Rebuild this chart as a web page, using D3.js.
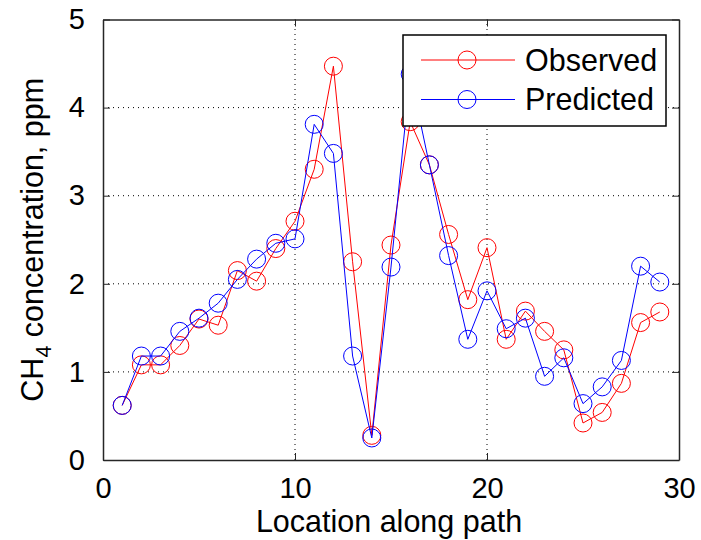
<!DOCTYPE html>
<html><head><meta charset="utf-8">
<script src="https://cdn.jsdelivr.net/npm/d3@7"></script>
<style>body{margin:0;background:#fff}svg{display:block}text{font-family:"Liberation Sans",Arial,sans-serif}</style>
</head><body>
<script>
const locations = d3.range(1, 30);
const observed = [0.62,1.08,1.08,1.30,1.60,1.53,2.15,2.03,2.40,2.71,3.30,4.47,2.25,0.28,2.44,3.84,3.35,2.56,1.82,2.41,1.37,1.69,1.46,1.25,0.42,0.54,0.87,1.56,1.68];
const predicted = [0.62,1.18,1.18,1.46,1.61,1.78,2.05,2.28,2.46,2.51,3.81,3.48,1.18,0.25,2.19,4.38,3.35,2.32,1.37,1.92,1.49,1.61,0.95,1.16,0.64,0.83,1.13,2.20,2.02];
const xTicks = [0,10,20,30];
const yTicks = [0,1,2,3,4,5];
const seriesNames = ["Observed","Predicted"];
const seriesColors = ["#ff0000","#0000ff"];

const W = 701, H = 540;
const m = {l:103, r:22, t:19.5, b:80};
const svg = d3.select("body").append("svg").attr("width",W).attr("height",H);
const x = d3.scaleLinear().domain([0,30]).range([m.l, W-m.r]);
const y = d3.scaleLinear().domain([0,5]).range([H-m.b, m.t]);
const fs = 29, fl = 30.5;

// grid
const g = svg.append("g");
g.selectAll(".gx").data(xTicks.slice(1,-1)).join("line")
  .attr("x1",d=>x(d)).attr("x2",d=>x(d)).attr("y1",y(0)).attr("y2",y(5))
  .attr("stroke","#000").attr("stroke-width",1).attr("stroke-dasharray","1,4");
g.selectAll(".gy").data(yTicks.slice(1,-1)).join("line")
  .attr("y1",d=>y(d)).attr("y2",d=>y(d)).attr("x1",x(0)).attr("x2",x(30))
  .attr("stroke","#000").attr("stroke-width",1).attr("stroke-dasharray","1,4");

// axes
const tl = 7;
const xb = svg.append("g").attr("transform",`translate(0,${y(0)})`)
  .call(d3.axisBottom(x).tickValues(xTicks).tickFormat(d3.format("d")).tickSize(-tl).tickPadding(tl+10).tickSizeOuter(0));
const xt = svg.append("g").attr("transform",`translate(0,${y(5)})`)
  .call(d3.axisTop(x).tickValues(xTicks).tickSize(-tl).tickFormat("").tickSizeOuter(0));
const yl = svg.append("g").attr("transform",`translate(${x(0)},0)`)
  .call(d3.axisLeft(y).tickValues(yTicks).tickFormat(d3.format("d")).tickSize(-tl).tickPadding(tl+11).tickSizeOuter(0));
const yr = svg.append("g").attr("transform",`translate(${x(30)},0)`)
  .call(d3.axisRight(y).tickValues(yTicks).tickSize(-tl).tickFormat("").tickSizeOuter(0));
[xb,xt,yl,yr].forEach(a=>{
  a.select(".domain").attr("stroke","#262626").attr("stroke-width",1.5);
  a.selectAll(".tick line").attr("stroke","#262626").attr("stroke-width",1);
  a.selectAll("text").attr("font-size",fs).attr("fill","#000").attr("font-family","Liberation Sans, Arial, sans-serif");
});
xb.selectAll("text").attr("dy","0.71em");

// series
const data = [observed, predicted];
data.forEach((vals,i)=>{
  const pts = vals.map((v,j)=>[locations[j], v]);
  svg.append("path").datum(pts)
    .attr("d", d3.line().x(d=>x(d[0])).y(d=>y(d[1])))
    .attr("fill","none").attr("stroke",seriesColors[i]).attr("stroke-width",1);
  svg.append("g").selectAll("circle").data(pts).join("circle")
    .attr("cx",d=>x(d[0])).attr("cy",d=>y(d[1])).attr("r",9)
    .attr("fill","none").attr("stroke",seriesColors[i]).attr("stroke-width",1);
});

// legend
const lg = svg.append("g");
lg.append("rect").attr("x",403).attr("y",35).attr("width",263).attr("height",91)
  .attr("fill","#fff").attr("stroke","#000").attr("stroke-width",1.5);
seriesNames.forEach((n,i)=>{
  const ly = 60 + i*39.5;
  lg.append("line").attr("x1",421).attr("x2",515).attr("y1",ly).attr("y2",ly)
    .attr("stroke",seriesColors[i]).attr("stroke-width",1);
  lg.append("circle").attr("cx",467).attr("cy",ly).attr("r",9)
    .attr("fill","none").attr("stroke",seriesColors[i]).attr("stroke-width",1);
  lg.append("text").attr("x",525).attr("y",ly).attr("dy","0.36em")
    .attr("font-size",fl).attr("fill","#000").text(n);
});

// axis labels
svg.append("text").attr("x",(x(0)+x(30))/2 - 2).attr("y",532).attr("text-anchor","middle")
  .attr("font-size",fl).attr("fill","#000").text("Location along path");
const yt = svg.append("text").attr("transform",`translate(43,${(y(0)+y(5))/2}) rotate(-90)`)
  .attr("text-anchor","middle").attr("font-size",fl).attr("fill","#000");
yt.append("tspan").text("CH");
yt.append("tspan").attr("font-size",fl*0.7).attr("dy",8).text("4");
yt.append("tspan").attr("dy",-8).text(" concentration, ppm");
</script>
</body></html>
